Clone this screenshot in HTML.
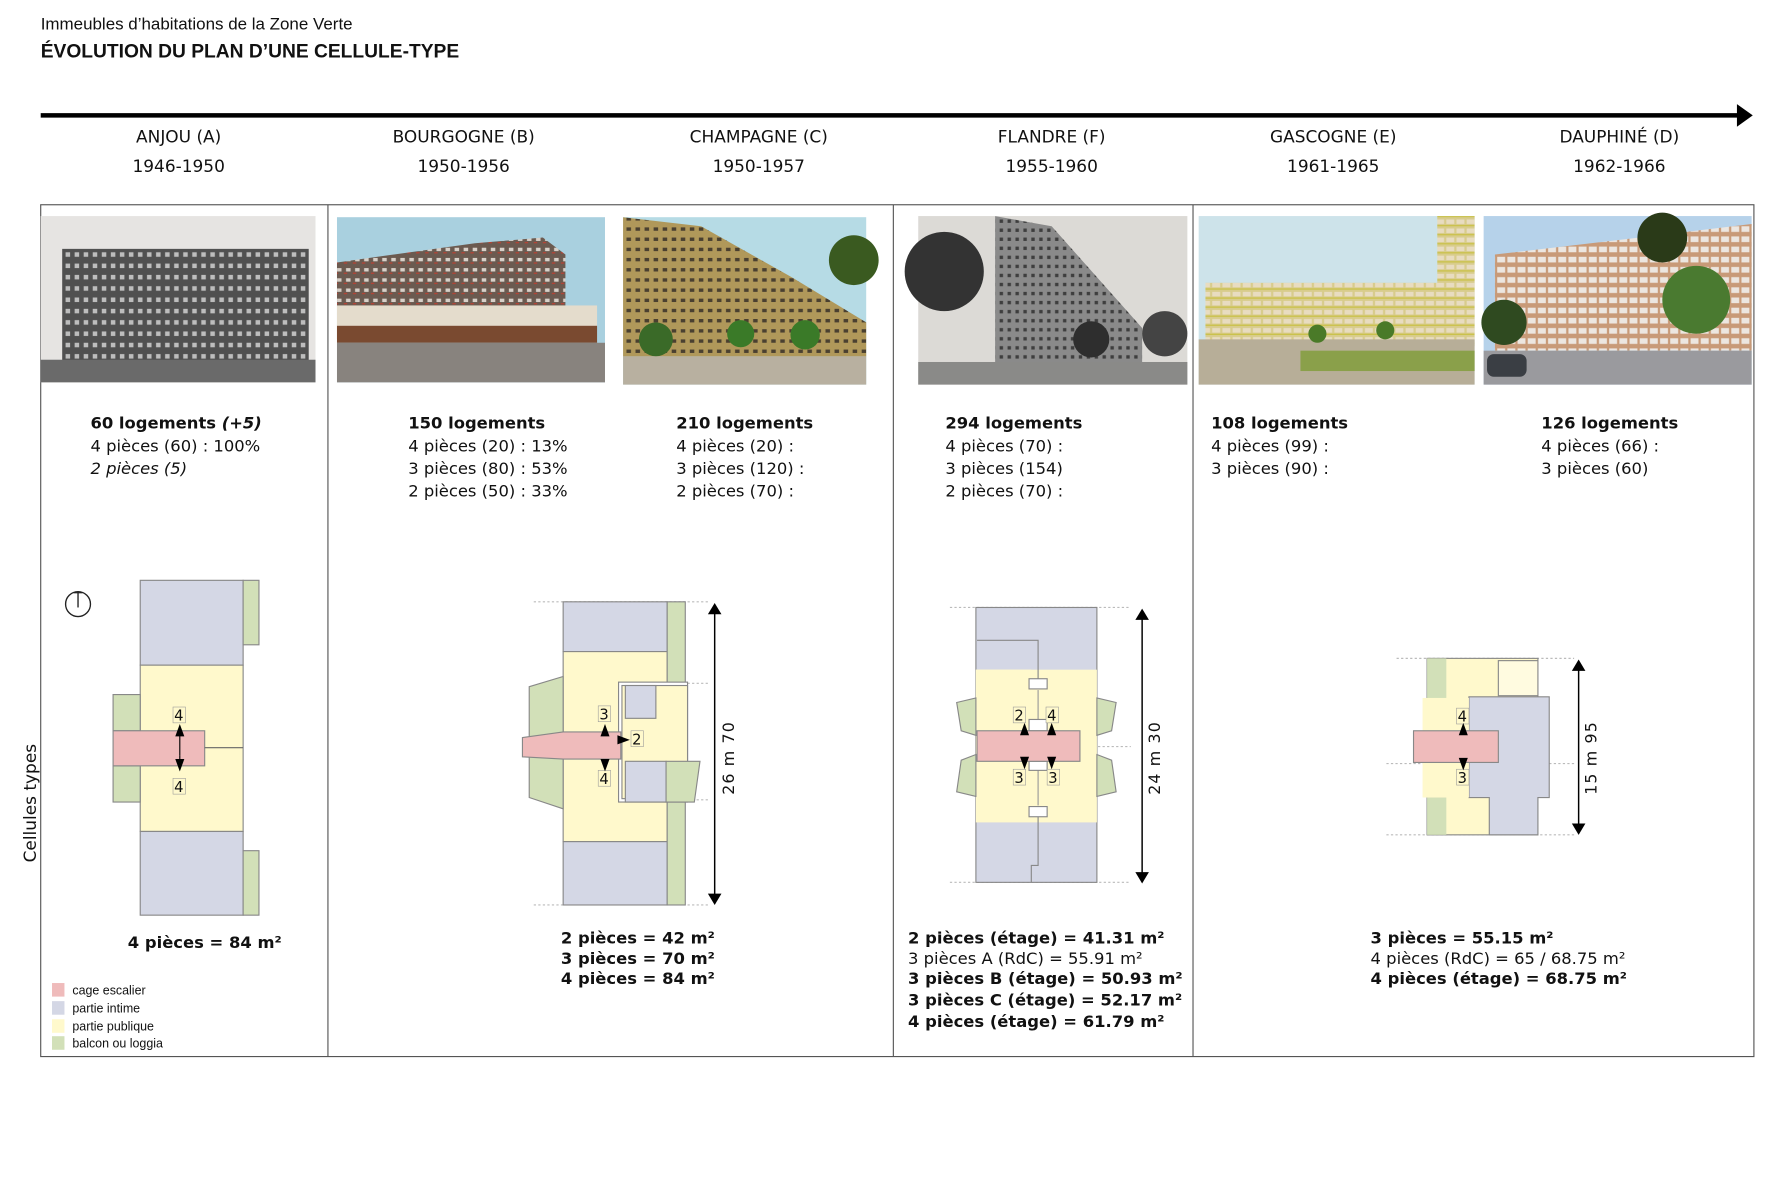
<!DOCTYPE html>
<html><head><meta charset="utf-8"><style>
html,body{margin:0;padding:0;background:#fff;}
svg{display:block}
text{font-family:"DejaVu Sans",Verdana,sans-serif;fill:#111}
.t{font-family:"Liberation Sans Narrow","Liberation Sans",sans-serif}
.h{font-size:15px;text-anchor:middle}
.s{font-size:14.5px}
.b{font-weight:bold}
</style></head><body>
<svg width="1772" height="1181" viewBox="0 0 1567 1044" preserveAspectRatio="none" xmlns="http://www.w3.org/2000/svg">
<defs>
<pattern id="wg" width="8" height="10" patternUnits="userSpaceOnUse"><rect width="8" height="10" fill="#505050"/><rect x="2" y="3" width="4" height="4" fill="#bdbdbd"/></pattern>
<pattern id="wb" width="8" height="9" patternUnits="userSpaceOnUse"><rect width="8" height="9" fill="#6b5a50"/><rect x="2" y="3" width="4" height="3" fill="#d8d0c8"/><rect x="0" y="7" width="3" height="1" fill="#c04030"/></pattern>
<pattern id="wc" width="8" height="9" patternUnits="userSpaceOnUse"><rect width="8" height="9" fill="#b0985a"/><rect x="2" y="3" width="4" height="3" fill="#4a4030"/></pattern>
<pattern id="wf" width="7" height="8" patternUnits="userSpaceOnUse"><rect width="7" height="8" fill="#8a8a8a"/><rect x="2" y="2" width="3" height="3" fill="#3e3e3e"/></pattern>
<pattern id="we" width="9" height="8" patternUnits="userSpaceOnUse"><rect width="9" height="8" fill="#d8cc8c"/><rect x="1" y="2" width="7" height="4" fill="#e8dcc0"/><rect x="0" y="7" width="9" height="1" fill="#c8c040"/></pattern>
<pattern id="wd" width="9" height="9" patternUnits="userSpaceOnUse"><rect width="9" height="9" fill="#c89a78"/><rect x="1" y="2" width="7" height="5" fill="#ece6e0"/></pattern>
</defs>

<text x="36" y="26" class="t" style="font-size:15px">Immeubles d’habitations de la Zone Verte</text>
<text x="36" y="51" class="t b" style="font-size:17px">ÉVOLUTION DU PLAN D’UNE CELLULE-TYPE</text>

<line x1="36" y1="102" x2="1540" y2="102" stroke="#000" stroke-width="4"/>
<polygon points="1536,92 1550,102 1536,112" fill="#000"/>

<g class="h">
<text x="158" y="126" class="h">ANJOU (A)</text><text x="158" y="152" class="h">1946-1950</text>
<text x="410" y="126" class="h">BOURGOGNE (B)</text><text x="410" y="152" class="h">1950-1956</text>
<text x="671" y="126" class="h">CHAMPAGNE (C)</text><text x="671" y="152" class="h">1950-1957</text>
<text x="930" y="126" class="h">FLANDRE (F)</text><text x="930" y="152" class="h">1955-1960</text>
<text x="1179" y="126" class="h">GASCOGNE (E)</text><text x="1179" y="152" class="h">1961-1965</text>
<text x="1432" y="126" class="h">DAUPHINÉ (D)</text><text x="1432" y="152" class="h">1962-1966</text>
</g>

<g fill="none" stroke="#555" stroke-width="1">
<rect x="36" y="181" width="1515" height="753"/>
<line x1="290" y1="181" x2="290" y2="934"/>
<line x1="790" y1="181" x2="790" y2="934"/>
<line x1="1055" y1="181" x2="1055" y2="934"/>
</g>

<!-- photos -->
<g>
<rect x="36" y="191" width="243" height="147" fill="#e6e4e2"/>
<rect x="55" y="220" width="218" height="100" fill="url(#wg)"/>
<rect x="36" y="318" width="243" height="20" fill="#6a6a6a"/>

<rect x="298" y="192" width="237" height="146" fill="#a9d0df"/>
<polygon points="298,232 420,215 480,210 500,225 500,300 298,300" fill="url(#wb)"/>
<rect x="298" y="270" width="230" height="30" fill="#e4dccc"/>
<rect x="298" y="288" width="230" height="15" fill="#7a4a30"/>
<rect x="298" y="303" width="237" height="35" fill="#88837e"/>

<rect x="551" y="192" width="215" height="148" fill="#b6dbe5"/>
<polygon points="551,192 620,200 700,245 766,285 766,315 551,315" fill="url(#wc)"/>
<circle cx="580" cy="300" r="15" fill="#3a6a28"/><circle cx="655" cy="295" r="12" fill="#3a7a28"/><circle cx="712" cy="296" r="13" fill="#3a7a28"/>
<circle cx="755" cy="230" r="22" fill="#3a5a20"/>
<rect x="551" y="315" width="215" height="25" fill="#b8b0a0"/>

<rect x="812" y="191" width="238" height="149" fill="#dcdad6"/>
<polygon points="880,191 930,200 1010,290 1010,335 880,335" fill="url(#wf)"/>
<circle cx="835" cy="240" r="35" fill="#333"/><circle cx="965" cy="300" r="16" fill="#2e2e2e"/><circle cx="1030" cy="295" r="20" fill="#444"/>
<rect x="812" y="320" width="238" height="20" fill="#8a8a88"/>

<rect x="1060" y="191" width="244" height="149" fill="#cde3ea"/>
<rect x="1066" y="250" width="210" height="52" fill="url(#we)"/>
<rect x="1271" y="191" width="33" height="115" fill="url(#we)"/>
<rect x="1060" y="300" width="244" height="40" fill="#b7ae98"/>
<rect x="1150" y="310" width="154" height="18" fill="#8aa04a"/>
<circle cx="1165" cy="295" r="8" fill="#4a7a28"/><circle cx="1225" cy="292" r="8" fill="#4a7a28"/>

<rect x="1312" y="191" width="237" height="149" fill="#b6d2ea"/>
<polygon points="1322,225 1450,210 1549,198 1549,310 1322,310" fill="url(#wd)"/>
<circle cx="1330" cy="285" r="20" fill="#2f4a20"/><circle cx="1500" cy="265" r="30" fill="#4a7a30"/><circle cx="1470" cy="210" r="22" fill="#2a3a18"/>
<rect x="1312" y="310" width="237" height="30" fill="#9a9a9e"/>
<rect x="1315" y="313" width="35" height="20" rx="6" fill="#3a3e44"/>
</g>

<!-- stats -->
<g class="s">
<text x="80" y="379" class="s b">60 logements <tspan font-style="italic">(+5)</tspan></text>
<text x="80" y="399" class="s">4 pièces (60) : 100%</text>
<text x="80" y="419" class="s" font-style="italic">2 pièces (5)</text>

<text x="361" y="379" class="s b">150 logements</text>
<text x="361" y="399" class="s">4 pièces (20) : 13%</text>
<text x="361" y="419" class="s">3 pièces (80) : 53%</text>
<text x="361" y="439" class="s">2 pièces (50) : 33%</text>

<text x="598" y="379" class="s b">210 logements</text>
<text x="598" y="399" class="s">4 pièces (20) :</text>
<text x="598" y="419" class="s">3 pièces (120) :</text>
<text x="598" y="439" class="s">2 pièces (70) :</text>

<text x="836" y="379" class="s b">294 logements</text>
<text x="836" y="399" class="s">4 pièces (70) :</text>
<text x="836" y="419" class="s">3 pièces (154)</text>
<text x="836" y="439" class="s">2 pièces (70) :</text>

<text x="1071" y="379" class="s b">108 logements</text>
<text x="1071" y="399" class="s">4 pièces (99) :</text>
<text x="1071" y="419" class="s">3 pièces (90) :</text>

<text x="1363" y="379" class="s b">126 logements</text>
<text x="1363" y="399" class="s">4 pièces (66) :</text>
<text x="1363" y="419" class="s">3 pièces (60)</text>
</g>

<text transform="translate(32,710) rotate(-90)" text-anchor="middle" style="font-size:15px">Cellules types</text>

<!-- compass -->
<circle cx="69" cy="534" r="11" fill="none" stroke="#222" stroke-width="1.2"/>
<line x1="69" y1="523" x2="69" y2="537" stroke="#222" stroke-width="1.2"/>
<line x1="65" y1="524" x2="73" y2="524" stroke="#222" stroke-width="1"/>

<!-- Anjou plan -->
<g stroke="#888" stroke-width="1">
<rect x="124" y="513" width="91" height="75" fill="#d4d7e5"/>
<rect x="215" y="513" width="14" height="57" fill="#d2e0b8"/>
<rect x="124" y="588" width="91" height="147" fill="#fff9cc"/>
<rect x="124" y="735" width="91" height="74" fill="#d4d7e5"/>
<rect x="215" y="752" width="14" height="57" fill="#d2e0b8"/>
<rect x="100" y="614" width="24" height="32" fill="#d2e0b8"/>
<rect x="100" y="677" width="24" height="32" fill="#d2e0b8"/>
<rect x="100" y="646" width="81" height="31" fill="#efbbbb"/>
<line x1="181" y1="661" x2="215" y2="661" stroke="#666"/>
</g>
<g font-size="13">
<rect x="153" y="625" width="11" height="14" fill="#fff9cc" stroke="#999" stroke-width=".5"/><text x="154" y="637">4</text>
<rect x="153" y="688" width="11" height="14" fill="#fff9cc" stroke="#999" stroke-width=".5"/><text x="154" y="700">4</text>
</g>
<polygon points="159,640 155,651 163,651" fill="#000"/><line x1="159" y1="650" x2="159" y2="668" stroke="#000"/>
<polygon points="159,682 155,671 163,671" fill="#000"/><line x1="159" y1="668" x2="159" y2="672" stroke="#000"/>

<!-- Bourgogne plan -->
<g stroke="#bbb" stroke-width="1" stroke-dasharray="2,2" fill="none">
<line x1="472" y1="532" x2="628" y2="532"/><line x1="472" y1="800" x2="628" y2="800"/>
<line x1="608" y1="604" x2="628" y2="604"/><line x1="608" y1="707" x2="628" y2="707"/>
</g>
<g stroke="#888" stroke-width="1">
<rect x="498" y="532" width="92" height="44" fill="#d4d7e5"/>
<rect x="498" y="576" width="92" height="168" fill="#fff9cc"/>
<rect x="498" y="744" width="92" height="56" fill="#d4d7e5"/>
<rect x="590" y="532" width="16" height="268" fill="#d2e0b8"/>
<polygon points="468,607 498,598 498,715 468,705" fill="#d2e0b8"/>
<rect x="547" y="603" width="61" height="106" fill="#fff" stroke="#888"/>
<rect x="550" y="606" width="58" height="100" fill="#fff9cc"/>
<rect x="553" y="606" width="27" height="29" fill="#d4d7e5"/>
<rect x="553" y="673" width="36" height="36" fill="#d4d7e5"/>
<polygon points="589,673 619,673 614,709 589,709" fill="#d2e0b8"/>
<polygon points="462,652 498,647 549,647 549,671 498,671 462,669" fill="#efbbbb"/>
</g>
<g font-size="13">
<rect x="529" y="624" width="11" height="14" fill="#fff9cc" stroke="#999" stroke-width=".5"/><text x="530" y="636">3</text>
<rect x="558" y="646" width="11" height="14" fill="#fff9cc" stroke="#999" stroke-width=".5"/><text x="559" y="658">2</text>
<rect x="529" y="681" width="11" height="14" fill="#fff9cc" stroke="#999" stroke-width=".5"/><text x="530" y="693">4</text>
</g>
<polygon points="535,640 531,651 539,651" fill="#000"/>
<polygon points="535,682 531,671 539,671" fill="#000"/>
<polygon points="557,654 546,650 546,658" fill="#000"/>
<line x1="632" y1="540" x2="632" y2="792" stroke="#000" stroke-width="1.3"/>
<polygon points="632,533 626,543 638,543" fill="#000"/><polygon points="632,800 626,790 638,790" fill="#000"/>
<text transform="translate(649,670) rotate(-90)" text-anchor="middle" font-size="14" letter-spacing="1">26 m 70</text>

<!-- Flandre plan -->
<g stroke="#bbb" stroke-width="1" stroke-dasharray="2,2" fill="none">
<line x1="840" y1="537" x2="1000" y2="537"/><line x1="840" y1="780" x2="1000" y2="780"/>
<line x1="955" y1="660" x2="1000" y2="660"/>
</g>
<g stroke="#888" stroke-width="1">
<rect x="863" y="537" width="107" height="243" fill="#d4d7e5"/>
<rect x="863" y="592" width="107" height="135" fill="#fff9cc" stroke="none"/>
<polygon points="863,592 912,592 912,627 863,627" fill="#fff9cc" stroke="none"/>
<polygon points="846,621 863,617 863,650 850,646" fill="#d2e0b8"/>
<polygon points="846,700 863,704 863,667 850,672" fill="#d2e0b8"/>
<polygon points="987,621 970,617 970,650 983,646" fill="#d2e0b8"/>
<polygon points="987,700 970,704 970,667 983,672" fill="#d2e0b8"/>
<polyline points="864,566 918,566 918,600" fill="none"/>
<polyline points="918,722 918,765 912,765 912,780" fill="none"/>
<line x1="918" y1="610" x2="918" y2="712" stroke="#999"/>
<rect x="910" y="600" width="16" height="9" fill="#fff"/>
<rect x="910" y="713" width="16" height="9" fill="#fff"/>
<rect x="910" y="636" width="16" height="10" fill="#fff"/>
<rect x="910" y="673" width="16" height="8" fill="#fff"/>
<rect x="864" y="646" width="91" height="27" fill="#efbbbb"/>
</g>
<g font-size="13">
<rect x="896" y="625" width="11" height="14" fill="#fff9cc" stroke="#999" stroke-width=".5"/><text x="897" y="637">2</text>
<rect x="925" y="625" width="11" height="14" fill="#fff9cc" stroke="#999" stroke-width=".5"/><text x="926" y="637">4</text>
<rect x="896" y="680" width="11" height="14" fill="#fff9cc" stroke="#999" stroke-width=".5"/><text x="897" y="692">3</text>
<rect x="926" y="680" width="11" height="14" fill="#fff9cc" stroke="#999" stroke-width=".5"/><text x="927" y="692">3</text>
</g>
<polygon points="906,639 902,650 910,650" fill="#000"/><polygon points="930,639 926,650 934,650" fill="#000"/>
<polygon points="906,680 902,669 910,669" fill="#000"/><polygon points="930,680 926,669 934,669" fill="#000"/>
<line x1="1010" y1="545" x2="1010" y2="773" stroke="#000" stroke-width="1.3"/>
<polygon points="1010,538 1004,548 1016,548" fill="#000"/><polygon points="1010,781 1004,771 1016,771" fill="#000"/>
<text transform="translate(1026,670) rotate(-90)" text-anchor="middle" font-size="14" letter-spacing="1">24 m 30</text>

<!-- Gascogne/Dauphiné plan -->
<g stroke="#bbb" stroke-width="1" stroke-dasharray="2,2" fill="none">
<line x1="1235" y1="582" x2="1392" y2="582"/><line x1="1226" y1="738" x2="1392" y2="738"/>
<line x1="1226" y1="675" x2="1392" y2="675"/>
</g>
<g stroke="#888" stroke-width="1">
<rect x="1262" y="582" width="98" height="156" fill="#fff9cc"/>
<rect x="1262" y="582" width="17" height="35" fill="#d2e0b8" stroke="none"/>
<rect x="1262" y="705" width="17" height="33" fill="#d2e0b8" stroke="none"/>
<rect x="1325" y="584" width="35" height="31" fill="#fffbe0"/>
<polygon points="1299,616 1370,616 1370,705 1360,705 1360,738 1317,738 1317,705 1299,705" fill="#d4d7e5"/>
<rect x="1258" y="617" width="41" height="88" fill="#fff9cc" stroke="none"/>
<rect x="1250" y="646" width="75" height="28" fill="#efbbbb"/>
</g>
<g font-size="13">
<rect x="1288" y="626" width="11" height="14" fill="#fff9cc" stroke="#999" stroke-width=".5"/><text x="1289" y="638">4</text>
<rect x="1288" y="680" width="11" height="14" fill="#fff9cc" stroke="#999" stroke-width=".5"/><text x="1289" y="692">3</text>
</g>
<polygon points="1294,639 1290,650 1298,650" fill="#000"/><polygon points="1294,681 1290,670 1298,670" fill="#000"/>
<line x1="1396" y1="590" x2="1396" y2="731" stroke="#000" stroke-width="1.3"/>
<polygon points="1396,583 1390,593 1402,593" fill="#000"/><polygon points="1396,738 1390,728 1402,728" fill="#000"/>
<text transform="translate(1412,670) rotate(-90)" text-anchor="middle" font-size="14" letter-spacing="1">15 m 95</text>

<!-- surface texts -->
<g class="s">
<text x="113" y="838" class="s b">4 pièces = 84 m²</text>
<text x="496" y="834" class="s b">2 pièces = 42 m²</text>
<text x="496" y="852" class="s b">3 pièces = 70 m²</text>
<text x="496" y="870" class="s b">4 pièces = 84 m²</text>
<text x="803" y="834" class="s b">2 pièces (étage) = 41.31 m²</text>
<text x="803" y="852" class="s">3 pièces A (RdC) = 55.91 m²</text>
<text x="803" y="870" class="s b">3 pièces B (étage) = 50.93 m²</text>
<text x="803" y="889" class="s b">3 pièces C (étage) = 52.17 m²</text>
<text x="803" y="908" class="s b">4 pièces (étage) = 61.79 m²</text>
<text x="1212" y="834" class="s b">3 pièces = 55.15 m²</text>
<text x="1212" y="852" class="s">4 pièces (RdC) = 65 / 68.75 m²</text>
<text x="1212" y="870" class="s b">4 pièces (étage) = 68.75 m²</text>
</g>

<!-- legend -->
<rect x="46" y="869" width="11" height="12" fill="#efbbbb"/>
<rect x="46" y="885" width="11" height="12" fill="#d4d7e5"/>
<rect x="46" y="901" width="11" height="12" fill="#fff9cc"/>
<rect x="46" y="916" width="11" height="12" fill="#d2e0b8"/>
<g font-size="11">
<text x="64" y="879" class="t" font-size="11">cage escalier</text>
<text x="64" y="895" class="t" font-size="11">partie intime</text>
<text x="64" y="911" class="t" font-size="11">partie publique</text>
<text x="64" y="926" class="t" font-size="11">balcon ou loggia</text>
</g>
</svg>
</body></html>
